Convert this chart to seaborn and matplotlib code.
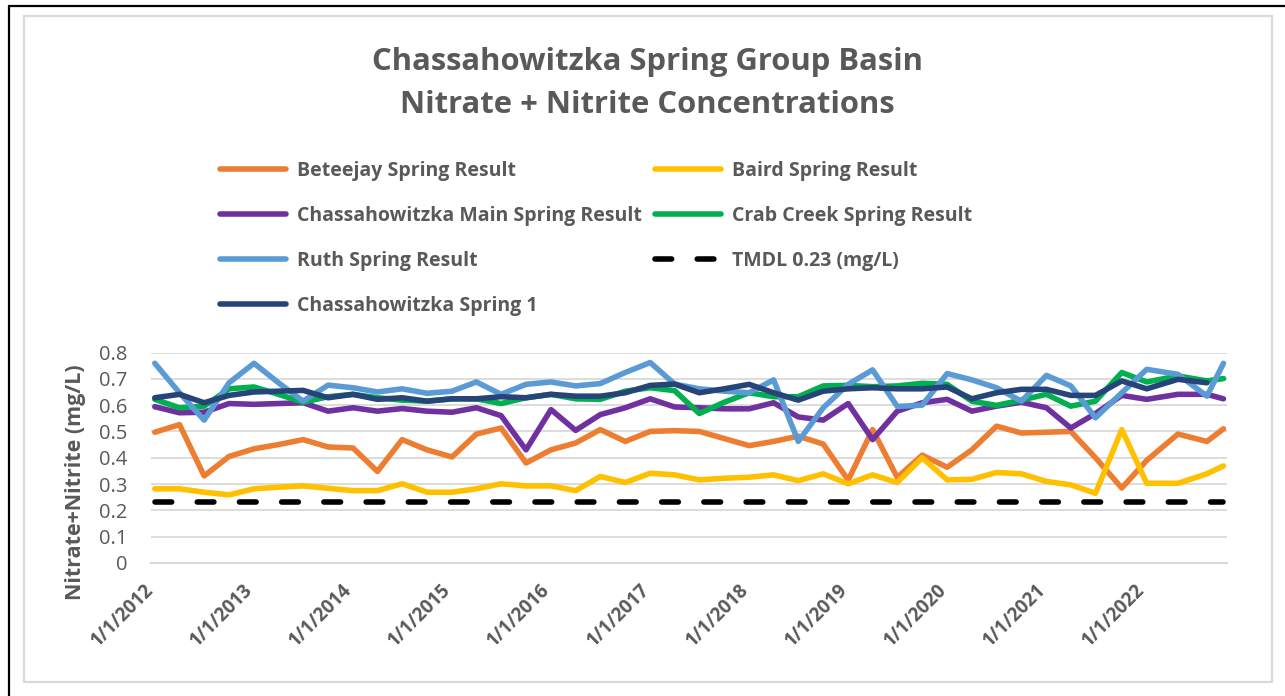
import numpy as np
import pandas as pd
import matplotlib
matplotlib.use("Agg")
import matplotlib.pyplot as plt
from matplotlib.patches import Rectangle
from matplotlib.lines import Line2D
import seaborn as sns

# sample dates (roughly quarterly)
dates = ["2012-01-15", "2012-04-15", "2012-07-15", "2012-10-15",
         "2013-01-15", "2013-04-15", "2013-07-15", "2013-10-15",
         "2014-01-15", "2014-04-15", "2014-07-15", "2014-10-15",
         "2015-01-15", "2015-04-15", "2015-07-15", "2015-10-15",
         "2016-01-15", "2016-04-15", "2016-07-15", "2016-10-15",
         "2017-01-15", "2017-04-15", "2017-07-15", "2017-10-15",
         "2018-01-15", "2018-04-15", "2018-07-15", "2018-10-15",
         "2019-01-15", "2019-04-15", "2019-07-15", "2019-10-15",
         "2020-01-15", "2020-04-15", "2020-07-15", "2020-10-15",
         "2021-01-15", "2021-04-15", "2021-07-15", "2021-10-20",
         "2022-01-20", "2022-05-15", "2022-08-30", "2022-10-30"]

beteejay = [0.497, 0.526, 0.331, 0.405, 0.434, 0.450, 0.469, 0.441, 0.437, 0.348,
            0.469, 0.430, 0.403, 0.490, 0.513, 0.380, 0.430, 0.456, 0.507, 0.462,
            0.500, 0.503, 0.500, 0.473, 0.446, 0.462, 0.482, 0.452, 0.315, 0.507,
            0.325, 0.410, 0.364, 0.430, 0.520, 0.494, 0.497, 0.500, 0.400, 0.285,
            0.390, 0.490, 0.462, 0.510]
baird = [0.282, 0.282, 0.269, 0.259, 0.282, 0.288, 0.293, 0.284, 0.275, 0.275,
         0.301, 0.269, 0.269, 0.282, 0.301, 0.293, 0.293, 0.275, 0.329, 0.306,
         0.341, 0.335, 0.316, 0.322, 0.326, 0.335, 0.313, 0.339, 0.301, 0.335,
         0.306, 0.400, 0.316, 0.318, 0.344, 0.339, 0.310, 0.297, 0.265, 0.507,
         0.303, 0.303, 0.339, 0.369]
main_spring = [0.594, 0.571, 0.573, 0.606, 0.603, 0.606, 0.609, 0.577, 0.590, 0.577,
               0.587, 0.577, 0.573, 0.590, 0.560, 0.430, 0.583, 0.504, 0.564, 0.590,
               0.624, 0.593, 0.590, 0.586, 0.586, 0.609, 0.555, 0.543, 0.606, 0.469,
               0.577, 0.609, 0.622, 0.577, 0.596, 0.611, 0.590, 0.513, 0.568, 0.637,
               0.622, 0.641, 0.641, 0.624]
crab_creek = [0.622, 0.590, 0.596, 0.662, 0.669, 0.641, 0.611, 0.632, 0.641, 0.628,
              0.619, 0.615, 0.624, 0.624, 0.606, 0.628, 0.641, 0.624, 0.622, 0.653,
              0.666, 0.655, 0.568, 0.611, 0.647, 0.632, 0.632, 0.673, 0.675, 0.670,
              0.673, 0.683, 0.679, 0.615, 0.599, 0.619, 0.641, 0.596, 0.615, 0.724,
              0.688, 0.711, 0.692, 0.701]
ruth = [0.759, 0.647, 0.543, 0.685, 0.759, 0.685, 0.615, 0.676, 0.666, 0.650,
        0.662, 0.645, 0.653, 0.688, 0.641, 0.679, 0.688, 0.673, 0.682, 0.724,
        0.762, 0.680, 0.662, 0.653, 0.647, 0.696, 0.462, 0.590, 0.679, 0.734,
        0.595, 0.600, 0.720, 0.696, 0.666, 0.615, 0.713, 0.673, 0.552, 0.647,
        0.736, 0.717, 0.634, 0.759]
spring_1 = [0.628, 0.641, 0.609, 0.637, 0.650, 0.653, 0.656, 0.628, 0.641, 0.622,
            0.628, 0.615, 0.624, 0.624, 0.632, 0.628, 0.641, 0.634, 0.634, 0.647,
            0.675, 0.680, 0.647, 0.662, 0.679, 0.647, 0.619, 0.653, 0.662, 0.666,
            0.662, 0.662, 0.669, 0.624, 0.647, 0.660, 0.660, 0.637, 0.637, 0.692,
            0.662, 0.698, 0.685, np.nan]
tmdl = 0.23

year_ticks = ["2012-01-01", "2013-01-01", "2014-01-01", "2015-01-01", "2016-01-01",
              "2017-01-01", "2018-01-01", "2019-01-01", "2020-01-01", "2021-01-01",
              "2022-01-01"]
year_labels = ["1/1/2012", "1/1/2013", "1/1/2014", "1/1/2015", "1/1/2016", "1/1/2017",
               "1/1/2018", "1/1/2019", "1/1/2020", "1/1/2021", "1/1/2022"]
y_ticks = [0, 0.1, 0.2, 0.3, 0.4, 0.5, 0.6, 0.7, 0.8]
y_labels = ["0", "0.1", "0.2", "0.3", "0.4", "0.5", "0.6", "0.7", "0.8"]

sns.set_theme(style="white")
plt.rcParams['font.family'] = ['Open Sans', 'DejaVu Sans']

gray = "#595959"
light = "#D9D9D9"
W, H = 1285, 696

fig = plt.figure(figsize=(W / 100, H / 100), dpi=100)
ax = fig.add_axes([151 / W, 1 - 563 / H, (1227 - 151) / W, (563 - 352.5) / H])

d = pd.to_datetime(dates)
series = [
    ("Beteejay Spring Result", beteejay, "#ED7D31"),
    ("Baird Spring Result", baird, "#FFC000"),
    ("Chassahowitzka Main Spring Result", main_spring, "#7030A0"),
    ("Crab Creek Spring Result", crab_creek, "#00B050"),
    ("Ruth Spring Result", ruth, "#5B9BD5"),
    ("TMDL 0.23 (mg/L)", [tmdl] * len(dates), "black"),
    ("Chassahowitzka Spring 1", spring_1, "#264478"),
]

for name, vals, col in series:
    df = pd.DataFrame({"date": d, "value": vals})
    if name.startswith("TMDL"):
        sns.lineplot(data=df, x="date", y="value", color=col, linewidth=4.0, ax=ax,
                     linestyle=(0, (3.0, 4.6)), dash_capstyle="round", label=name)
    else:
        sns.lineplot(data=df, x="date", y="value", color=col, linewidth=4.0, ax=ax,
                     solid_capstyle="round", solid_joinstyle="round", label=name)

ax.get_legend().remove()

ax.set_ylim(0, 0.8)
ax.set_xlim(pd.Timestamp("2012-01-01"), pd.Timestamp("2022-11-12"))
ax.set_yticks(y_ticks)
ax.set_yticklabels(y_labels, color=gray, fontsize=14.5)
ax.set_xticks(pd.to_datetime(year_ticks))
ax.set_xticklabels(year_labels, rotation=45, ha="right", va="center",
                   rotation_mode="anchor", color=gray, fontsize=13.5, fontweight="bold")
ax.tick_params(axis="y", length=0, pad=17)
ax.tick_params(axis="x", length=5, width=1.5, color=light, direction="out", pad=12)
ax.set_xlabel("")
ax.set_ylabel("")
ax.yaxis.grid(True, color=light, linewidth=1.3)
ax.set_axisbelow(True)
for s in ["top", "right", "left"]:
    ax.spines[s].set_visible(False)
ax.spines["bottom"].set_color(light)
ax.spines["bottom"].set_linewidth(1.5)

fig.text(75 / W, 1 - 482 / H, "Nitrate+Nitrite (mg/L)", rotation=90, ha="center",
         va="center", fontsize=15.5, fontweight="bold", color=gray)

fig.text(647.5 / W, 1 - 62 / H, "Chassahowitzka Spring Group Basin", ha="center",
         va="center", fontsize=22.3, fontweight="bold", color=gray)
fig.text(647.5 / W, 1 - 105 / H, "Nitrate + Nitrite Concentrations", ha="center",
         va="center", fontsize=22.3, fontweight="bold", color=gray)

# legend in two columns placed like the original
handles, labels = ax.get_legend_handles_labels()
col1 = [0, 2, 4, 6]
col2 = [1, 3, 5]
for idx, x0 in [(col1, 220), (col2, 655)]:
    leg = fig.legend([handles[i] for i in idx], [labels[i] for i in idx],
                     loc="upper left", bbox_to_anchor=(x0 / W, 1 - 161 / H),
                     frameon=False, borderpad=0, borderaxespad=0,
                     handlelength=3.4, handletextpad=0.55, labelspacing=1.28,
                     prop={"size": 14, "weight": "bold"})
    for t in leg.get_texts():
        t.set_color(gray)

# chart frame
fig.add_artist(Rectangle((24 / W, 1 - 682 / H), (1272 - 24) / W, (682 - 16) / H,
                         transform=fig.transFigure, fill=False, edgecolor=light, linewidth=1.6))
fig.add_artist(Line2D([8.5 / W, 8.5 / W], [0, 1 - 6 / H], transform=fig.transFigure,
                      color="black", linewidth=1.6))
fig.add_artist(Line2D([8.5 / W, 1], [1 - 6 / H, 1 - 6 / H], transform=fig.transFigure,
                      color="black", linewidth=1.6))

fig.savefig("out.png", dpi=100, facecolor="white")
